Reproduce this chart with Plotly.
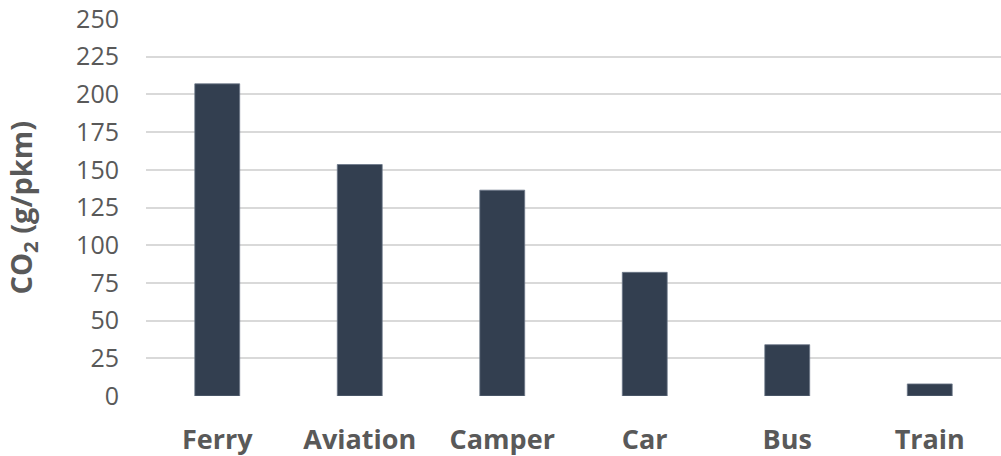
import plotly.graph_objects as go

categories = ["Ferry", "Aviation", "Camper", "Car", "Bus", "Train"]
co2_values = [207, 153.5, 136.5, 82, 34, 8]
y_ticks = [0, 25, 50, 75, 100, 125, 150, 175, 200, 225, 250]

fig = go.Figure(go.Bar(
    x=categories,
    y=co2_values,
    marker=dict(color="#333f50", line=dict(color="#6b7688", width=0.8)),
    width=0.315,
))

L, R, T, B = 146, 0, 19, 60
W, H = 1001, 456

fig.update_layout(
    width=W, height=H,
    margin=dict(l=L, r=R, t=T, b=B),
    paper_bgcolor="white", plot_bgcolor="white",
    font=dict(family="Open Sans", color="#595959"),
    showlegend=False,
    xaxis=dict(
        showgrid=False, showline=False, zeroline=False,
        tickfont=dict(size=27, family="Open Sans", color="#595959", weight="bold"),
        ticks="", ticklabelstandoff=25,
    ),
    yaxis=dict(
        range=[0, 250], tickvals=y_ticks,
        showgrid=True, gridcolor="#d9d9d9", gridwidth=1.5,
        zeroline=False, showline=False,
        tickfont=dict(size=25, family="Open Sans", color="#595959"),
        ticks="", ticklabelstandoff=26,
    ),
    annotations=[dict(
        text="<b>CO<sub>2</sub> (g/pkm)</b>",
        xref="paper", yref="paper",
        x=(22 - L) / (W - L - R), y=0.5,
        xanchor="center", yanchor="middle",
        textangle=-90, showarrow=False,
        font=dict(size=29, family="Open Sans", color="#595959"),
    )],
)

fig.write_html("out.html")
